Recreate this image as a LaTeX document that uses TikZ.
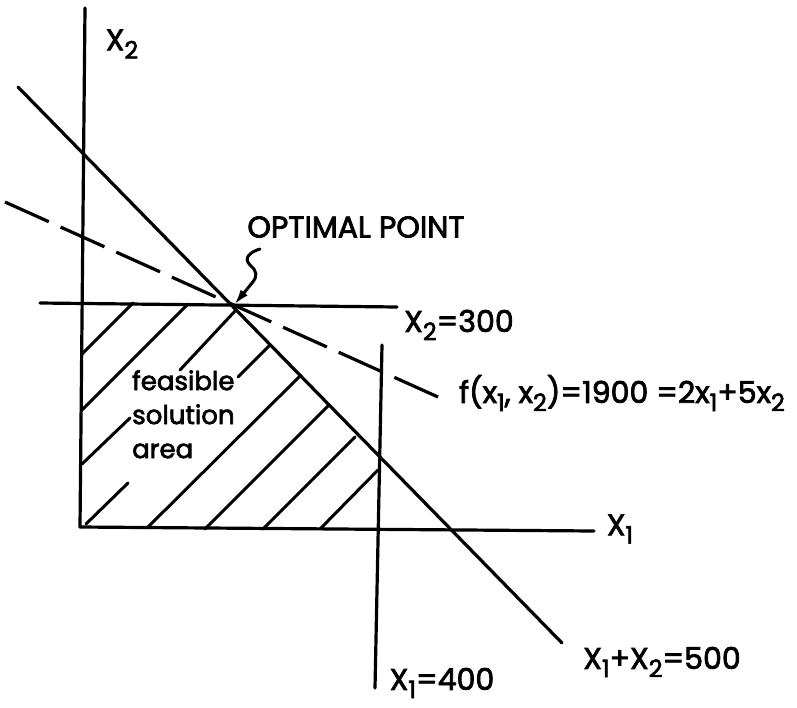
\documentclass[tikz,border=0pt]{standalone}
\usepackage{fontspec}
\setmainfont{Poppins}[UprightFeatures={FakeBold=2.5}]
\usetikzlibrary{arrows.meta}
\newcommand\sbx[1]{\raisebox{-0.5ex}{\scalebox{0.8}{#1}}}
\tikzset{
  ln/.style={line width=3.2pt, line cap=round},
  hatch/.style={line width=3pt, line cap=round},
  lbl/.style={inner sep=0pt, font=\fontsize{30}{30}\selectfont},
  small/.style={inner sep=0pt, font=\fontsize{26}{34}\selectfont, align=left}
}
\begin{document}
\begin{tikzpicture}[x=1pt,y=-1pt]
\useasboundingbox (0,0) rectangle (797,707);
% key coordinates
\coordinate (O) at (80,527);
\coordinate (Ytop) at (85,8);
\coordinate (Xend) at (594,531);
\coordinate (Ha) at (40,303);
\coordinate (Hb) at (397,307);
\coordinate (Va) at (382,345);
\coordinate (Vb) at (375,688);
\coordinate (Sa) at (18,87);
\coordinate (Sb) at (562,643);
\coordinate (Da) at (5,202);
\coordinate (Db) at (438,397);
\coordinate (P) at (234,305);
% axes and constraint lines
\draw[ln] (O) -- (Ytop);
\draw[ln] (O) -- (Xend);
\draw[ln] (Ha) -- (Hb);
\draw[ln] (Va) -- (Vb);
\draw[ln] (Sa) -- (Sb);
\draw[ln, line cap=butt, dash pattern=on 48pt off 13pt] (Da) -- (Db);
% hatching
\draw[hatch] (82,354) -- (133,303);
\draw[hatch] (82,410) -- (188,304);
\draw[hatch] (82,464) -- (130,418);
\draw[hatch] (180,370) -- (236,310);
\draw[hatch] (86,524) -- (128,483);
\draw[hatch] (238,377) -- (270,345);
\draw[hatch] (147,528) -- (300,376);
\draw[hatch] (205,529) -- (328,406);
\draw[hatch] (263,529) -- (355,437);
\draw[hatch] (320,529) -- (378,470);
% labels
\node[lbl] (x2lab) at (122,44) {X\sbx{2}};
\node[lbl] (opt) at (356,227) {OPTIMAL POINT};
\node[lbl] (x2eq) at (459,325) {X\sbx{2}=300};
\node[lbl] (flab) at (622,393) {f(x\sbx{1}, x\sbx{2})=1900 =2x\sbx{1}+5x\sbx{2}};
\node[small, anchor=north west] (feas) at (132,370) {feasible\\solution\\area};
\node[lbl] (x1lab) at (620,529) {X\sbx{1}};
\node[lbl] (sumlab) at (662,662) {X\sbx{1}+X\sbx{2}=500};
\node[lbl] (x1eq) at (442,683) {X\sbx{1}=400};
% squiggle pointer
\coordinate (Q) at (260,249);
\draw[line width=3pt, line cap=round, -{Latex[length=16pt,width=9pt]}]
  (Q) .. controls (250,252) and (243,258) .. (250,265)
      .. controls (257,271) and (258,276) .. (252,283) -- (P);
\end{tikzpicture}
\end{document}
